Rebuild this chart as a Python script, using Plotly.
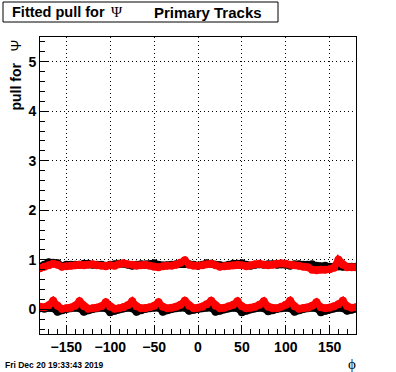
import plotly.graph_objects as go

phi = [-180, -175, -170, -165, -160, -155, -150, -145, -140, -135, -130, -125,
       -120, -115, -110, -105, -100, -95, -90, -85, -80, -75, -70, -65,
       -60, -55, -50, -45, -40, -35, -30, -25, -20, -15, -10, -5,
       0, 5, 10, 15, 20, 25, 30, 35, 40, 45, 50, 55,
       60, 65, 70, 75, 80, 85, 90, 95, 100, 105, 110, 115,
       120, 125, 130, 135, 140, 145, 150, 155, 160, 165, 170, 175, 180]

black_upper = [0.86, 0.90, 0.95, 0.94, 0.93, 0.87, 0.90, 0.90, 0.90, 0.90, 0.92, 0.92,
               0.90, 0.90, 0.90, 0.88, 0.90, 0.91, 0.92, 0.92, 0.90, 0.88, 0.90, 0.91,
               0.90, 0.90, 0.93, 0.90, 0.88, 0.89, 0.90, 0.91, 0.92, 0.93, 0.91, 0.90,
               0.88, 0.90, 0.93, 0.92, 0.90, 0.89, 0.88, 0.90, 0.92, 0.92, 0.93, 0.90,
               0.88, 0.90, 0.91, 0.90, 0.91, 0.91, 0.90, 0.91, 0.90, 0.88, 0.91, 0.91,
               0.90, 0.90, 0.91, 0.88, 0.87, 0.88, 0.86, 0.86, 0.87, 0.86, 0.86, 0.86, 0.86]

black_lower = [0.02, 0.01, 0.03, 0.02, -0.05, -0.02, 0.01, 0.02, 0.03, 0.02, -0.05, -0.02,
               0.01, 0.02, 0.03, 0.02, -0.06, -0.03, 0.00, 0.02, 0.03, 0.02, -0.05, -0.02,
               0.01, 0.02, 0.03, 0.03, -0.05, -0.02, 0.01, 0.02, 0.03, 0.03, -0.03, -0.01,
               0.01, 0.02, 0.03, 0.03, -0.05, -0.03, 0.00, 0.02, 0.03, 0.02, -0.06, -0.03,
               0.00, 0.02, 0.03, 0.02, -0.04, -0.02, 0.01, 0.02, 0.03, 0.02, -0.05, -0.02,
               0.01, 0.02, 0.03, 0.02, -0.06, -0.03, 0.00, 0.02, 0.03, 0.02, -0.03, -0.01, 0.01]

red_upper = [0.83, 0.86, 0.89, 0.92, 0.90, 0.86, 0.87, 0.88, 0.89, 0.90, 0.89, 0.90,
             0.91, 0.89, 0.88, 0.87, 0.89, 0.88, 0.91, 0.93, 0.91, 0.90, 0.88, 0.89,
             0.90, 0.88, 0.86, 0.85, 0.87, 0.88, 0.88, 0.90, 0.94, 0.99, 0.90, 0.88,
             0.88, 0.89, 0.91, 0.92, 0.89, 0.86, 0.87, 0.88, 0.89, 0.90, 0.89, 0.87,
             0.89, 0.91, 0.92, 0.90, 0.89, 0.90, 0.92, 0.93, 0.92, 0.90, 0.89, 0.88,
             0.86, 0.85, 0.80, 0.79, 0.80, 0.80, 0.81, 0.84, 1.00, 0.90, 0.85, 0.85, 0.85]

red_lower = [0.05, 0.04, 0.08, 0.17, 0.07, 0.01, 0.02, 0.03, 0.07, 0.16, 0.06, 0.01,
             0.02, 0.03, 0.06, 0.14, 0.05, 0.01, 0.02, 0.04, 0.08, 0.16, 0.06, 0.02,
             0.02, 0.04, 0.07, 0.14, 0.05, 0.02, 0.03, 0.05, 0.09, 0.17, 0.07, 0.02,
             0.03, 0.05, 0.10, 0.17, 0.07, 0.02, 0.03, 0.06, 0.09, 0.16, 0.06, 0.02,
             0.03, 0.05, 0.09, 0.16, 0.05, 0.02, 0.02, 0.05, 0.09, 0.17, 0.06, 0.01,
             0.02, 0.03, 0.07, 0.14, 0.04, 0.02, 0.03, 0.06, 0.10, 0.17, 0.06, 0.03, 0.04]

x_ticks = [-150, -100, -50, 0, 50, 100, 150]
y_ticks = [0, 1, 2, 3, 4, 5]

W, H = 396, 372
L, R, T, B = 40, 40, 37, 38
PW, PH = W - L - R, H - T - B

def px_x(p):
    return (p - L) / PW

def px_y(p):
    return (H - B - p) / PH

fig = go.Figure()
for ys, col in [(black_upper, "black"), (black_lower, "black"),
                (red_upper, "#ff0000"), (red_lower, "#ff0000")]:
    fig.add_trace(go.Scatter(x=phi, y=ys, mode="lines+markers",
                             line=dict(color=col, width=7),
                             marker=dict(color=col, size=8, symbol="circle", line=dict(width=0)),
                             showlegend=False, hoverinfo="skip", cliponaxis=True))

tickfont = dict(family="Liberation Sans", size=14, color="black", weight="bold")

fig.update_xaxes(range=[-180, 180], tickvals=x_ticks, ticks="inside", ticklen=9,
                 tickcolor="black", tickfont=tickfont,
                 minor=dict(dtick=10, ticks="inside", ticklen=5, tickcolor="black", showgrid=False),
                 showgrid=True, gridcolor="black", griddash="1px,3px", gridwidth=1,
                 showline=True, linecolor="black", linewidth=1, mirror=True,
                 zeroline=False)
fig.update_yaxes(range=[-0.5, 5.5], tickvals=y_ticks, ticks="inside", ticklen=9,
                 tickcolor="black", tickfont=tickfont,
                 minor=dict(dtick=0.2, tick0=0, ticks="inside", ticklen=5, tickcolor="black", showgrid=False),
                 showgrid=True, gridcolor="black", griddash="1px,3px", gridwidth=1,
                 showline=True, linecolor="black", linewidth=1, mirror=True,
                 zeroline=False)

fig.add_shape(type="rect", xref="paper", yref="paper",
              x0=px_x(3), x1=px_x(278), y0=px_y(22), y1=px_y(2),
              line=dict(color="black", width=1), fillcolor="white")

ann = []
ann.append(dict(text="Fitted pull for", x=px_x(10), y=px_y(12), xanchor="left", yanchor="middle",
                font=dict(family="Liberation Sans", size=14.5, color="black", weight="bold")))
ann.append(dict(text="Ψ", x=px_x(117), y=px_y(12), xanchor="center", yanchor="middle",
                font=dict(family="Liberation Serif", size=15, color="black")))
ann.append(dict(text="Primary Tracks", x=px_x(152), y=px_y(12), xanchor="left", yanchor="middle",
                font=dict(family="Liberation Sans", size=15, color="black", weight="bold")))
# y title
ann.append(dict(text="<b>pull for</b>   Ψ", x=px_x(15), y=px_y(38), xanchor="center", yanchor="top",
                textangle=-90,
                font=dict(family="Liberation Sans", size=14, color="black")))
# x title
ann.append(dict(text="ϕ", x=px_x(352), y=px_y(364), xanchor="center", yanchor="middle",
                font=dict(family="Liberation Serif", size=15, color="black")))
# date
ann.append(dict(text="Fri Dec 20 19:33:43 2019", x=px_x(3), y=px_y(365), xanchor="left", yanchor="middle",
                font=dict(family="Liberation Sans", size=8.5, color="black", weight="bold")))
for a in ann:
    a.update(xref="paper", yref="paper", showarrow=False)

fig.update_layout(width=W, height=H, margin=dict(l=L, r=R, t=T, b=B, pad=0),
                  paper_bgcolor="white", plot_bgcolor="white", annotations=ann)

fig.write_html("out.html", config={"displayModeBar": False},
               post_script="document.body.style.margin='0';document.body.style.padding='0';document.body.style.overflow='hidden';")
